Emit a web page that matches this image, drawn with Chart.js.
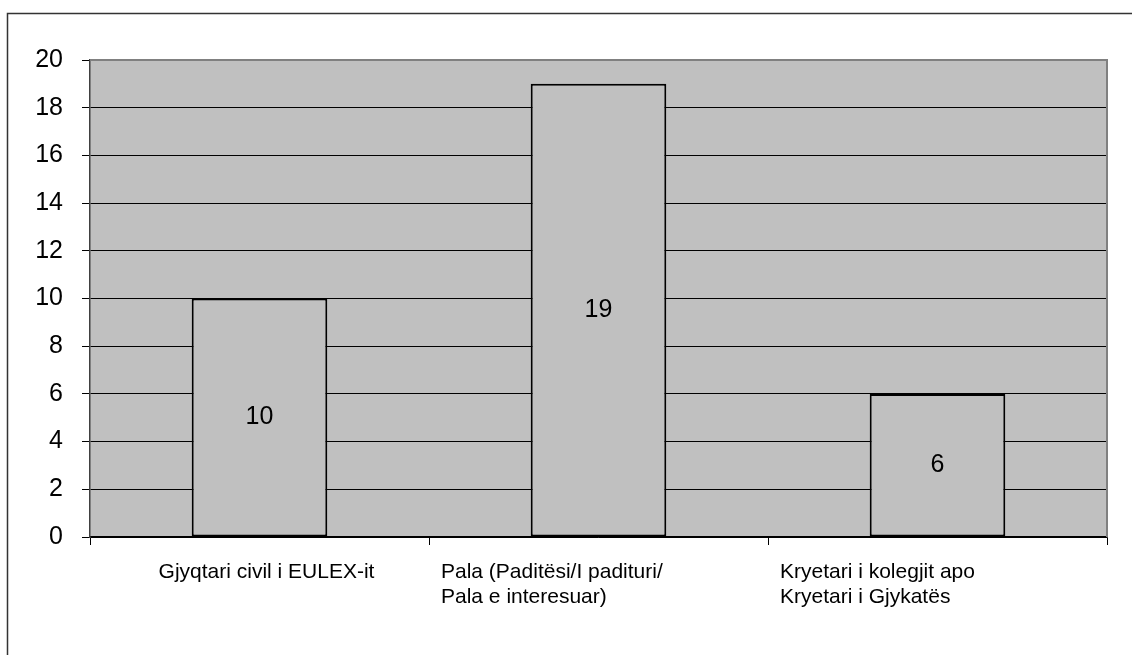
<!DOCTYPE html>
<html lang="en">
<head>
<meta charset="UTF-8">
<title>Chart</title>
<script src="https://cdn.jsdelivr.net/npm/chart.js@4.4.1/dist/chart.umd.min.js"></script>
<style>
  html, body { margin: 0; padding: 0; background: #fff; }
  #wrap { width: 1132px; height: 655px; position: relative; }
</style>
</head>
<body>
<div id="wrap"><canvas id="chart"></canvas></div>
<script>
  const categories = [
    ['Gjyqtari civil i EULEX-it'],
    ['Pala (Paditësi/I padituri/', 'Pala e interesuar)'],
    ['Kryetari i kolegjit apo', 'Kryetari i Gjykatës']
  ];
  const values = [10, 19, 6];
  const yTicks = [0, 2, 4, 6, 8, 10, 12, 14, 16, 18, 20];

  const FONT = '"Liberation Sans", Arial, sans-serif';

  // grey plot area, outer frame, value labels and wrapped category labels
  const decor = {
    id: 'decor',
    beforeDraw(chart) {
      const { ctx, chartArea: a } = chart;
      ctx.save();
      ctx.strokeStyle = '#333';
      ctx.lineWidth = 1.5;
      ctx.strokeRect(7.5, 13.5, 1140, 660);
      ctx.fillStyle = '#c0c0c0';
      ctx.fillRect(a.left, a.top, a.right - a.left, a.bottom - a.top);
      ctx.restore();
    },
    beforeDatasetsDraw(chart) {
      const { ctx, chartArea: a } = chart;
      ctx.save();
      ctx.strokeStyle = '#808080';
      ctx.lineWidth = 2;
      ctx.beginPath();
      ctx.moveTo(a.left, a.top);
      ctx.lineTo(a.right, a.top);
      ctx.lineTo(a.right, a.bottom);
      ctx.stroke();
      ctx.restore();
    },
    afterDatasetsDraw(chart) {
      const { ctx } = chart;
      const meta = chart.getDatasetMeta(0);
      const x = chart.scales.x;
      ctx.save();
      ctx.fillStyle = '#000';
      ctx.font = '25px ' + FONT;
      ctx.textAlign = 'center';
      ctx.textBaseline = 'middle';
      meta.data.forEach((bar, i) => {
        ctx.fillText(values[i], bar.x, (bar.y + bar.base) / 2);
      });
      ctx.font = '21px ' + FONT;
      const half = (x.getPixelForValue(1) - x.getPixelForValue(0)) / 2;
      categories.forEach((lines, i) => {
        const c = x.getPixelForValue(i);
        lines.forEach((ln, j) => {
          const y = x.top + 35 + j * 25;
          if (lines.length > 1) {
            ctx.textAlign = 'left';
            ctx.fillText(ln, c - half + 12, y);
          } else {
            ctx.textAlign = 'center';
            ctx.fillText(ln, c + 7, y);
          }
        });
      });
      ctx.restore();
    }
  };

  new Chart(document.getElementById('chart'), {
    type: 'bar',
    data: {
      labels: categories.map(l => l.join(' ')),
      datasets: [{
        data: values,
        backgroundColor: '#c0c0c0',
        borderColor: '#000',
        borderWidth: 2,
        borderSkipped: false,
        categoryPercentage: 1,
        barPercentage: 0.4
      }]
    },
    options: {
      responsive: true,
      maintainAspectRatio: false,
      animation: false,
      layout: { padding: { top: 60, right: 25, left: 0, bottom: 0 } },
      plugins: { legend: { display: false }, tooltip: { enabled: false } },
      scales: {
        x: {
          grid: { display: true, drawOnChartArea: false, drawTicks: true, tickLength: 8, color: '#000', offset: true },
          border: { color: '#000', width: 1.5 },
          ticks: { display: false },
          afterFit(s) { s.height = 118; }
        },
        y: {
          min: 0, max: 20,
          afterBuildTicks(s) { s.ticks = yTicks.map(v => ({ value: v })); },
          grid: {
            color: ctx => ctx.tick && ctx.tick.value === 20 ? '#808080' : '#000',
            tickColor: '#000',
            tickLength: 8,
            lineWidth: 1
          },
          border: { color: '#404040', width: 1.5 },
          ticks: { color: '#000', font: { family: FONT, size: 25 }, padding: 19 },
          afterFit(s) { s.width = 90; }
        }
      }
    },
    plugins: [decor]
  });
</script>
</body>
</html>
